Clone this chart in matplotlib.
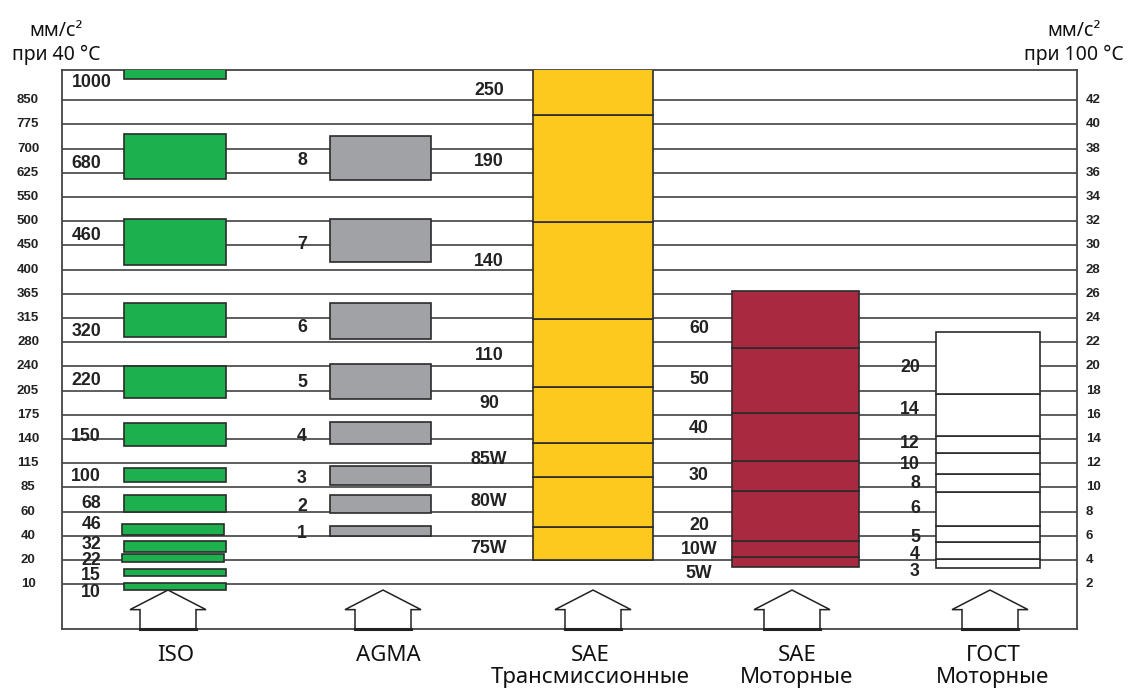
import matplotlib
matplotlib.use("Agg")
import matplotlib.pyplot as plt
from matplotlib.patches import Rectangle, Polygon

# scale: grid line i (0..20) -> left / right tick values
left_ticks = [10, 20, 40, 60, 85, 115, 140, 175, 205, 240, 280,
              315, 365, 400, 450, 500, 550, 625, 700, 775, 850]
right_ticks = list(range(2, 44, 2))

# ISO classes: (label, bottom level, top level, label level)
iso_labels = ["1000", "680", "460", "320", "220", "150", "100",
              "68", "46", "32", "22", "15", "10"]
iso_low = [20.87, 16.76, 13.20, 10.20, 7.70, 5.73, 4.21, 3.00, 2.04, 1.33, 0.91, 0.33, -0.25]
iso_high = [21.6, 18.60, 15.10, 11.62, 9.03, 6.67, 4.79, 3.69, 2.50, 1.79, 1.24, 0.62, 0.05]
iso_text_y = [20.75, 17.37, 14.43, 10.44, 8.41, 6.10, 4.45, 3.35, 2.48, 1.65, 1.00, 0.36, -0.33]

# AGMA grades
agma_labels = ["8", "7", "6", "5", "4", "3", "2", "1"]
agma_low = [16.70, 13.33, 10.12, 7.64, 5.81, 4.09, 2.95, 2.00]
agma_high = [18.54, 15.10, 11.62, 9.12, 6.71, 4.88, 3.69, 2.41]
agma_text_y = [17.49, 14.02, 10.60, 8.33, 6.10, 4.35, 3.20, 2.10]

# SAE gear oils: segment boundaries of the yellow column
sae_tr_labels = ["250", "190", "140", "110", "90", "85W", "80W", "75W"]
sae_tr_text_y = [20.40, 17.46, 13.33, 9.47, 7.45, 5.14, 3.41, 1.46]
sae_tr_edges = [1.00, 2.38, 4.45, 5.83, 8.15, 10.98, 14.96, 19.39, 21.6]

# SAE engine oils
sae_mot_labels = ["60", "50", "40", "30", "20", "10W", "5W"]
sae_mot_text_y = [10.55, 8.44, 6.45, 4.48, 2.41, 1.45, 0.43]
sae_mot_edges = [0.70, 1.12, 1.79, 3.84, 5.10, 7.09, 9.78, 12.13]

# GOST engine oils
gost_labels = ["20", "14", "12", "10", "8", "6", "5", "4", "3"]
gost_text_y = [8.95, 7.20, 5.83, 4.96, 4.17, 3.11, 1.94, 1.21, 0.52]
gost_edges = [0.66, 1.05, 1.74, 2.41, 3.83, 4.57, 5.44, 6.14, 7.85, 10.44]

col_names = ["ISO", "AGMA", "SAE\nТрансмиссионные", "SAE\nМоторные", "ГОСТ\nМоторные"]
col_centers = [176, 388, 590, 797, 993]
arrow_centers = [168, 383, 593, 792, 990]

GREEN = "#1db04f"
GREY = "#a1a2a6"
YELLOW = "#fdc91e"
RED = "#a82940"
EDGE = "#2b2b2b"
LINE = "#505050"
NUM = dict(family="Liberation Sans", fontweight="bold", color="#222222")
LABEL_FONT = ["Noto Sans", "DejaVu Sans"]

fig = plt.figure(figsize=(11.29, 6.90), dpi=100)
ax = fig.add_axes([62 / 1129, 61 / 690, 1015 / 1129, 559 / 690])
ax.set_xlim(62, 1077)
ax.set_ylim(-1.85, 21.25)
ax.set_xticks([])
ax.set_yticks([])
for s in ax.spines.values():
    s.set_color("#444444")
    s.set_linewidth(1.3)

# horizontal scale lines and tick labels
for i, (lt, rt) in enumerate(zip(left_ticks, right_ticks)):
    ax.plot([62, 1077], [i, i], color=LINE, lw=1.3, zorder=1)
    ax.text(28, i, str(lt), ha="center", va="center", fontsize=9.5, clip_on=False, **NUM)
    ax.text(1086, i, str(rt), ha="left", va="center", fontsize=9.5, clip_on=False, **NUM)


def box(x0, x1, y0, y1, color):
    ax.add_patch(Rectangle((x0, y0), x1 - x0, y1 - y0, facecolor=color,
                           edgecolor=EDGE, lw=1.2, zorder=3))


# ISO
for lab, lo, hi, ty in zip(iso_labels, iso_low, iso_high, iso_text_y):
    x0 = 121.5 if lab in ("46", "22") else 123.5
    x1 = 224 if lab in ("46", "22") else 226
    box(x0, x1, lo, hi, GREEN)
    if lab == "1000":
        ax.text(72, ty, lab, ha="left", va="center", fontsize=12.8, zorder=4, **NUM)
    else:
        ax.text(101, ty, lab, ha="right", va="center", fontsize=12.8, zorder=4, **NUM)

# AGMA
for lab, lo, hi, ty in zip(agma_labels, agma_low, agma_high, agma_text_y):
    box(330, 431, lo, hi, GREY)
    ax.text(302, ty, lab, ha="center", va="center", fontsize=12.8, zorder=4, **NUM)

# SAE gear oils
for lo, hi in zip(sae_tr_edges[:-1], sae_tr_edges[1:]):
    box(533.5, 653, lo, hi, YELLOW)
for lab, ty in zip(sae_tr_labels, sae_tr_text_y):
    ax.text(489, ty, lab, ha="center", va="center", fontsize=12.8, zorder=4, **NUM)

# SAE engine oils
for lo, hi in zip(sae_mot_edges[:-1], sae_mot_edges[1:]):
    box(732, 859, lo, hi, RED)
for lab, ty in zip(sae_mot_labels, sae_mot_text_y):
    ax.text(699, ty, lab, ha="center", va="center", fontsize=12.8, zorder=4, **NUM)

# GOST engine oils
for lo, hi in zip(gost_edges[:-1], gost_edges[1:]):
    box(936, 1040, lo, hi, "white")
for lab, ty in zip(gost_labels, gost_text_y):
    ax.text(920, ty, lab, ha="right", va="center", fontsize=12.8, zorder=4, **NUM)

# outline arrows pointing up at each column
for cx in arrow_centers:
    pts = [(cx - 28, -1.85), (cx - 28, -1.05), (cx - 38, -1.05), (cx, -0.24),
           (cx + 38, -1.05), (cx + 28, -1.05), (cx + 28, -1.85)]
    ax.add_patch(Polygon(pts, closed=True, facecolor="white", edgecolor="#222222",
                         lw=1.1, zorder=2, clip_on=False))
    ax.plot([cx - 28, cx + 28], [-1.85, -1.85], color="#222222", lw=2.2, zorder=5,
            clip_on=False)

# column names under the chart
for cx, name in zip(col_centers, col_names):
    fig.text(cx / 1129, 1 - 645 / 690, name, ha="center", va="top", fontsize=16,
             family=LABEL_FONT, color="#111111", linespacing=1.05)

# units
fig.text(56 / 1129, 1 - 43 / 690, "мм/с²\nпри 40 °C", ha="center", va="center",
         fontsize=14, family=LABEL_FONT, color="#111111", linespacing=1.2)
fig.text(1074 / 1129, 1 - 43 / 690, "мм/с²\nпри 100 °C", ha="center", va="center",
         fontsize=14, family=LABEL_FONT, color="#111111", linespacing=1.2)

fig.savefig("out.png", dpi=100)
